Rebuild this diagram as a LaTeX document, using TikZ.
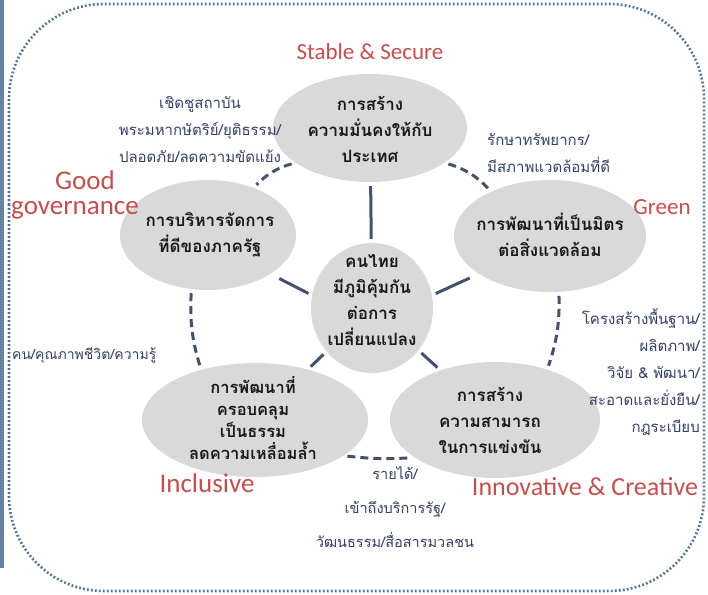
\documentclass[tikz,border=0pt]{standalone}
\usepackage{fontspec}
\setmainfont{Carlito}
\newfontfamily\thaifont[Script=Thai]{Loma}
\usetikzlibrary{shapes.geometric}
\definecolor{framec}{RGB}{80,112,150}
\definecolor{barc}{RGB}{100,130,162}
\definecolor{ellc}{RGB}{217,217,217}
\definecolor{linec}{RGB}{68,80,108}
\definecolor{redc}{RGB}{192,80,77}
\definecolor{sidec}{RGB}{52,64,100}
\definecolor{boldc}{RGB}{25,25,25}
\begin{document}
\begin{tikzpicture}[x=1pt,y=-1pt,
  bubble/.style={ellipse, fill=ellc, draw=none, inner sep=0pt},
  intext/.style={font=\thaifont\bfseries\fontsize{17}{26}\selectfont, text=boldc, align=center, inner sep=0pt},
  sidetext/.style={font=\thaifont\fontsize{15}{27}\selectfont, text=sidec, inner sep=0pt},
  redlabel/.style={font=\fontsize{23}{26}\selectfont, text=redc, inner sep=0pt},
  spoke/.style={draw=linec, line width=3pt, shorten <=4pt, shorten >=4pt},
  ring/.style={draw=linec, line width=3pt, dash pattern=on 8pt off 5pt, shorten <=4pt, shorten >=4pt},
  frame/.style={draw=framec, line width=2.6pt, dash pattern=on 1.8pt off 2.2pt, rounded corners=95pt}]
\useasboundingbox (0,0) rectangle (708,594);
% frame and side bar
\draw[frame] (9,300) -- (9,4) -- (704,4) -- (704,591) -- (9,591) -- cycle;
\draw[barc, line width=4pt] (2,0) -- (2,568);
% bubbles
\node[bubble, minimum width=194pt, minimum height=108pt] (T) at (370,128) {};
\node[bubble, minimum width=176pt, minimum height=110pt] (L) at (208,235) {};
\node[bubble, minimum width=192pt, minimum height=112pt] (R) at (550,236) {};
\node[bubble, minimum width=122pt, minimum height=130pt] (C) at (372,308) {};
\node[bubble, minimum width=226pt, minimum height=114pt] (BL) at (255,420) {};
\node[bubble, minimum width=210pt, minimum height=116pt] (BR) at (495,420) {};
% bubble texts
\node[intext] (Tt) at (370,129) {การสร้าง\\ความมั่นคงให้กับ\\ประเทศ};
\node[intext] (Lt) at (210,235) {การบริหารจัดการ\\ที่ดีของภาครัฐ};
\node[intext] (Rt) at (550,235) {การพัฒนาที่เป็นมิตร\\ต่อสิ่งแวดล้อม};
\node[intext] (Ct) at (372,300) {คนไทย\\มีภูมิคุ้มกัน\\ต่อการ\\เปลี่ยนแปลง};
\node[intext, font=\thaifont\bfseries\fontsize{16.5}{22}\selectfont] (BLt) at (253,418) {การพัฒนาที่\\ครอบคลุม\\เป็นธรรม\\ลดความเหลื่อมล้ำ};
\node[intext] (BRt) at (490,420) {การสร้าง\\ความสามารถ\\ในการแข่งขัน};
% spokes
\draw[spoke] (C) -- (T);
\draw[spoke, shorten >=10pt] (C.168) -- (L.328);
\draw[spoke, shorten >=10pt] (C.12) -- (R.208);
\draw[spoke] (C) -- (BL);
\draw[spoke] (C) -- (BR);
% ring
\draw[ring] (T.205) to[bend right=15] (L.46);
\draw[ring] (T.335) to[bend left=15] (R.143);
\draw[ring] (L.253) to[bend right=10] (BL.137);
\draw[ring] (R.279) to[bend left=10] (BR.44);
\draw[ring] (BL.338) to[bend right=5] (BR.205);
% red labels
\node[redlabel] (ss) at (370,52) {Stable \& Secure};
\node[redlabel, align=center, font=\fontsize{27}{25}\selectfont] (gg) at (75,195) {\hspace*{20pt}Good\\governance};
\node[redlabel] (gr) at (662,207) {Green};
\node[redlabel, font=\fontsize{27}{30}\selectfont] (inc) at (207,483) {Inclusive};
\node[redlabel, font=\fontsize{26}{30}\selectfont] (inn) at (585,487) {Innovative \& Creative};
% side texts
\node[sidetext, align=center] (s1) at (200,130) {เชิดชูสถาบัน\\พระมหากษัตริย์/ยุติธรรม/\\ปลอดภัย/ลดความขัดแย้ง};
\node[sidetext, align=left, anchor=west] (s2) at (487,153) {รักษาทรัพยากร/\\มีสภาพแวดล้อมที่ดี};
\node[sidetext, align=right, anchor=east] (s3) at (700,372) {โครงสร้างพื้นฐาน/\\ผลิตภาพ/\\วิจัย \& พัฒนา/\\สะอาดและยั่งยืน/\\กฎระเบียบ};
\node[sidetext, anchor=west, font=\thaifont\fontsize{14}{27}\selectfont] (s4) at (12,355) {คน/คุณภาพชีวิต/ความรู้};
\node[sidetext, align=center, font=\thaifont\fontsize{14.5}{34}\selectfont] (s5) at (395,507) {รายได้/\\เข้าถึงบริการรัฐ/\\วัฒนธรรม/สื่อสารมวลชน};
\end{tikzpicture}
\end{document}
